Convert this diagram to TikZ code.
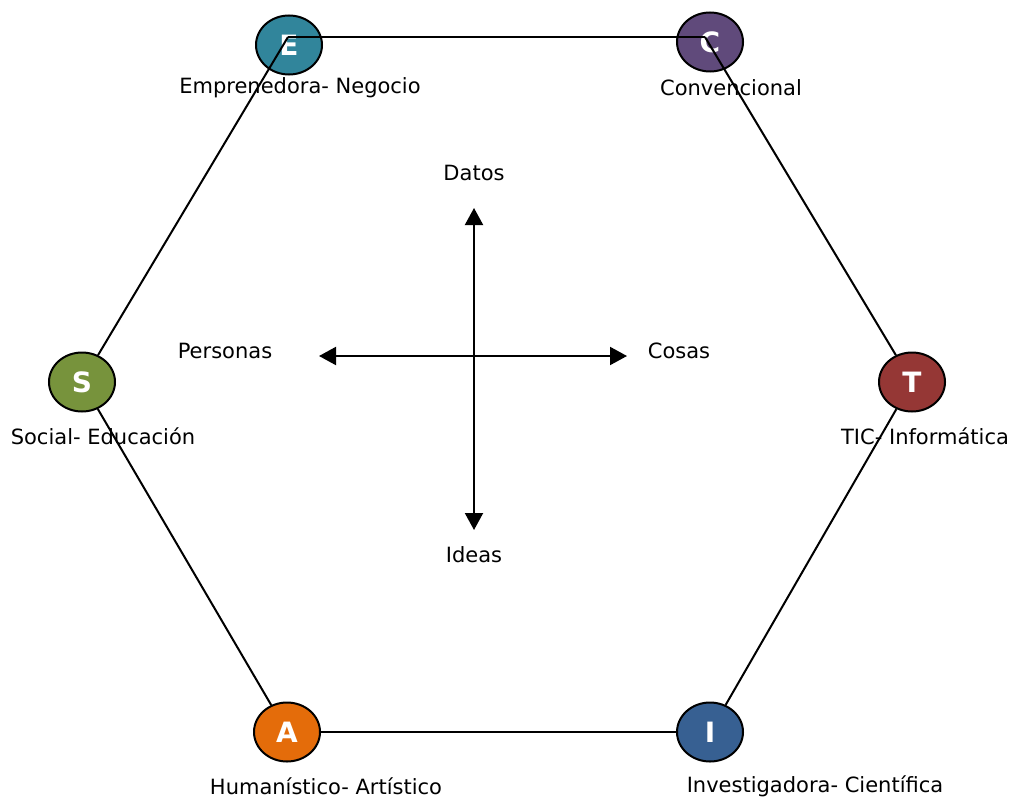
\documentclass[tikz,border=0pt]{standalone}
\usepackage{fontspec}
\setmainfont{DejaVu Sans}
\usetikzlibrary{arrows.meta,shapes.geometric}

\definecolor{colE}{RGB}{49,133,155}
\definecolor{colC}{RGB}{96,74,123}
\definecolor{colS}{RGB}{119,147,60}
\definecolor{colT}{RGB}{149,55,53}
\definecolor{colA}{RGB}{228,108,10}
\definecolor{colI}{RGB}{55,96,146}

\tikzset{
  tipo/.style={ellipse, draw=black, line width=1pt, fill=#1, text=white,
    minimum width=33pt, minimum height=29.5pt, inner sep=0pt,
    font=\fontsize{14}{14}\selectfont\bfseries},
  etiqueta/.style={font=\fontsize{10.5}{12}\selectfont, inner sep=0pt},
  lado/.style={line width=1pt},
  eje/.style={line width=1pt, {Triangle[length=8.5pt,width=9pt]}-{Triangle[length=8.5pt,width=9pt]}}
}

\begin{document}
\begin{tikzpicture}[x=0.5pt, y=-0.5pt]
  \useasboundingbox (0,0) rectangle (1016,797);

  % Types (top row first, so the sides run over them)
  \node[tipo=colE] (E) at (289,45) {E};
  \node[tipo=colC] (C) at (710,42) {C};
  \coordinate (vE) at (288,37);
  \coordinate (vC) at (705,37);

  % Types (sides and bottom)
  \node[tipo=colS] (S) at (82,382) {S};
  \node[tipo=colT] (T) at (912,382) {T};
  \node[tipo=colA] (A) at (287,732) {A};
  \node[tipo=colI] (I) at (710,732) {I};

  % Hexagon
  \draw[lado] (vE) -- (vC);
  \draw[lado] (vE) -- (S);
  \draw[lado] (vC) -- (T);
  \draw[lado] (S) -- (A);
  \draw[lado] (T) -- (I);
  \draw[lado] (A) -- (I);

  % Labels
  \node[etiqueta] (lE) at (300,88) {Emprenedora- Negocio};
  \node[etiqueta] (lC) at (731,88) {Convencional};
  \node[etiqueta] (lS) at (103,436) {Social- Educación};
  \node[etiqueta] (lT) at (925,436) {TIC- Informática};
  \node[etiqueta] (lA) at (326,786) {Humanístico- Artístico};
  \node[etiqueta] (lI) at (815,786) {Investigadora- Científica};

  % Axes
  \coordinate (arriba) at (474,208);
  \coordinate (abajo) at (474,530);
  \coordinate (izq) at (319,356);
  \coordinate (der) at (627,356);
  \draw[eje] (abajo) -- (arriba);
  \draw[eje] (izq) -- (der);
  \node[etiqueta] (datos) at (474,173) {Datos};
  \node[etiqueta] (ideas) at (474,555) {Ideas};
  \node[etiqueta] (personas) at (225,351) {Personas};
  \node[etiqueta] (cosas) at (679,351) {Cosas};
\end{tikzpicture}
\end{document}
